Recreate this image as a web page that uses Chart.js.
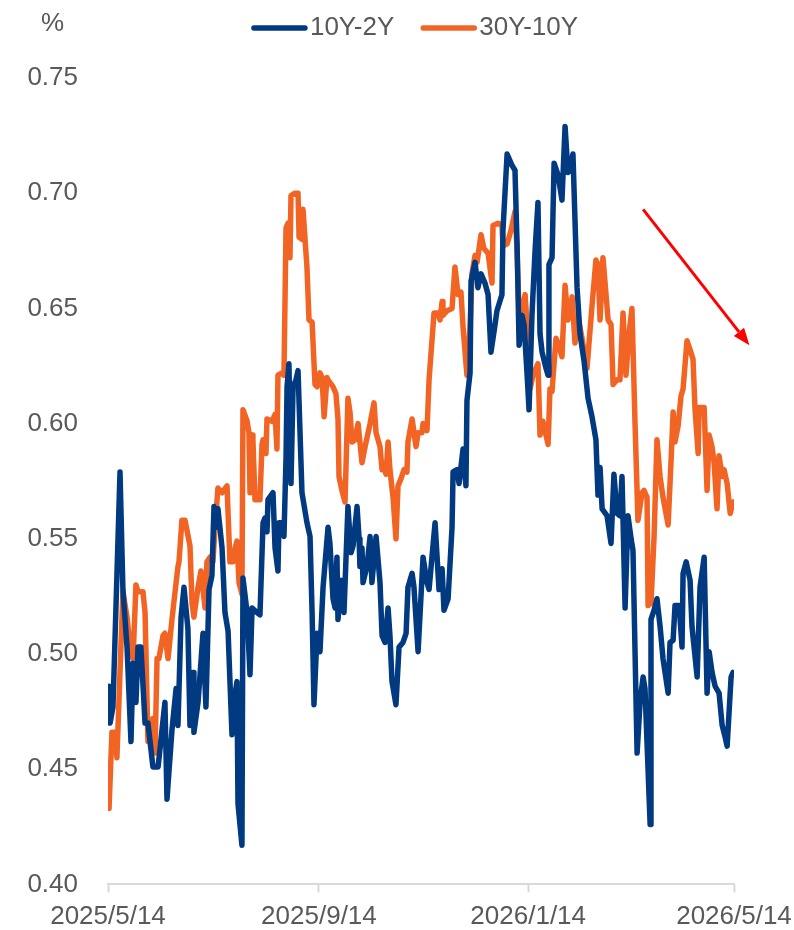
<!DOCTYPE html>
<html>
<head>
<meta charset="utf-8">
<script src="https://cdn.jsdelivr.net/npm/chart.js@4/dist/chart.umd.min.js"></script>
<style>
  html, body { margin: 0; padding: 0; background: #ffffff; }
  canvas { display: block; }
</style>
</head>
<body>
<canvas id="spreadChart" width="794" height="930"></canvas>
<script>
// Days elapsed since 2025/5/14 for each observation
const days10y2y = [
  0.6, 1.2, 2.9, 7.0, 8.7, 11.1, 13.4, 14.6, 16.3, 17.5,
  19.2, 21.6, 23.3, 26.2, 29.2, 33.2, 34.4, 37.3, 39.7, 40.8,
  42.6, 44.3, 46.6, 47.8, 49.6, 50.1, 52.5, 55.4, 57.1, 58.9,
  60.6, 61.8, 63.6, 64.1, 66.5, 68.2, 70.0, 72.3, 73.5, 75.2,
  75.8, 78.1, 78.7, 81.1, 82.8, 84.0, 86.9, 88.6, 90.4, 91.5,
  92.7, 93.3, 96.2, 97.4, 99.1, 99.7, 101.5, 102.6, 103.8, 104.4,
  105.5, 106.7, 107.9, 109.6, 110.8, 113.1, 116.0, 117.8, 119.0, 120.1,
  121.9, 123.6, 125.4, 128.3, 129.4, 131.2, 132.4, 133.5, 134.1, 135.9,
  137.6, 139.9, 141.7, 142.9, 145.2, 146.4, 146.9, 148.1, 148.7, 151.0,
  152.8, 153.9, 156.3, 158.6, 159.8, 161.5, 163.3, 164.4, 165.6, 167.9,
  169.7, 172.0, 173.8, 174.9, 177.3, 178.4, 180.8, 183.7, 186.0, 187.2,
  190.7, 193.0, 194.8, 195.9, 198.3, 200.6, 201.2, 203.5, 204.7, 207.0,
  208.7, 209.3, 211.1, 211.7, 214.0, 215.7, 217.5, 219.8, 221.6, 223.3,
  225.1, 226.8, 229.7, 230.3, 232.7, 235.6, 237.3, 238.5, 239.7, 241.4,
  242.6, 244.3, 245.5, 247.2, 249.0, 250.7, 251.9, 253.1, 255.4, 256.6,
  257.1, 258.9, 260.1, 262.4, 264.7, 266.5, 268.2, 269.4, 271.1, 273.5,
  275.2, 277.6, 279.9, 282.2, 284.5, 285.7, 286.9, 288.1, 291.0, 293.3,
  295.0, 296.8, 298.5, 299.7, 301.5, 303.2, 305.0, 306.1, 308.5, 310.3,
  312.0, 313.1, 316.1, 316.6, 318.4, 320.1, 321.9, 323.6, 326.6, 327.7,
  329.5, 330.6, 333.0, 334.7, 335.3, 337.1, 339.4, 340.5, 343.5, 345.2,
  347.6, 349.3, 350.5, 352.2, 354.0, 356.3, 358.1, 359.8, 361.0, 363.3,
  364.4
];
// 10Y-2Y spread, %
const spread10y2y = [
  0.486, 0.470, 0.477, 0.579, 0.528, 0.503, 0.462, 0.496, 0.479, 0.503,
  0.503, 0.470, 0.470, 0.451, 0.451, 0.479, 0.437, 0.467, 0.485, 0.469,
  0.516, 0.529, 0.511, 0.469, 0.492, 0.466, 0.479, 0.509, 0.477, 0.528,
  0.534, 0.564, 0.555, 0.563, 0.546, 0.518, 0.510, 0.465, 0.480, 0.488,
  0.435, 0.417, 0.533, 0.518, 0.491, 0.520, 0.518, 0.517, 0.557, 0.559,
  0.553, 0.567, 0.570, 0.546, 0.536, 0.557, 0.557, 0.551, 0.585, 0.616,
  0.626, 0.574, 0.616, 0.619, 0.623, 0.570, 0.557, 0.551, 0.518, 0.478,
  0.509, 0.501, 0.529, 0.555, 0.548, 0.524, 0.520, 0.542, 0.515, 0.532,
  0.518, 0.564, 0.544, 0.547, 0.564, 0.550, 0.538, 0.546, 0.531, 0.538,
  0.551, 0.531, 0.551, 0.531, 0.508, 0.505, 0.520, 0.508, 0.488, 0.478,
  0.503, 0.505, 0.509, 0.529, 0.535, 0.529, 0.501, 0.542, 0.531, 0.528,
  0.557, 0.528, 0.537, 0.519, 0.524, 0.555, 0.579, 0.580, 0.574, 0.589,
  0.573, 0.610, 0.622, 0.662, 0.670, 0.659, 0.665, 0.661, 0.656, 0.631,
  0.640, 0.649, 0.656, 0.684, 0.717, 0.712, 0.710, 0.678, 0.634, 0.647,
  0.643, 0.622, 0.606, 0.647, 0.675, 0.696, 0.639, 0.631, 0.624, 0.621,
  0.669, 0.672, 0.713, 0.708, 0.697, 0.729, 0.709, 0.710, 0.717, 0.659,
  0.639, 0.627, 0.611, 0.603, 0.593, 0.569, 0.581, 0.563, 0.560, 0.548,
  0.578, 0.561, 0.560, 0.577, 0.520, 0.560, 0.550, 0.545, 0.457, 0.480,
  0.490, 0.485, 0.426, 0.515, 0.519, 0.524, 0.512, 0.498, 0.483, 0.505,
  0.506, 0.521, 0.521, 0.503, 0.535, 0.540, 0.532, 0.512, 0.490, 0.529,
  0.542, 0.483, 0.501, 0.492, 0.486, 0.483, 0.469, 0.464, 0.460, 0.490,
  0.492
];

const days30y10y = [
  0.6, 2.3, 4.1, 5.2, 8.7, 11.1, 12.8, 14.6, 16.3, 17.5,
  20.4, 21.6, 23.3, 24.5, 26.2, 27.4, 28.6, 29.7, 32.1, 33.2,
  35.0, 37.3, 39.1, 40.8, 41.4, 43.1, 44.9, 47.8, 49.0, 50.1,
  52.5, 54.2, 55.4, 56.6, 57.7, 59.5, 61.2, 62.4, 64.1, 66.5,
  69.4, 71.1, 72.9, 74.1, 75.2, 76.4, 78.1, 78.7, 81.1, 82.2,
  82.8, 84.0, 84.5, 85.7, 88.6, 89.8, 90.4, 92.1, 92.7, 95.6,
  97.4, 98.5, 99.1, 101.5, 102.6, 103.8, 105.0, 106.1, 106.7, 109.0,
  110.8, 111.4, 113.1, 113.7, 116.0, 117.2, 119.0, 120.7, 121.9, 123.6,
  124.8, 126.0, 127.7, 128.3, 131.2, 132.9, 134.1, 134.7, 136.4, 138.2,
  139.9, 141.1, 142.3, 144.0, 145.8, 148.1, 149.9, 152.8, 155.1, 156.3,
  158.6, 159.8, 160.9, 162.1, 163.3, 164.4, 166.2, 167.9, 169.1, 170.8,
  172.6, 174.3, 174.9, 177.3, 179.6, 180.8, 183.1, 183.7, 186.0, 187.2,
  190.1, 192.4, 193.6, 194.8, 195.3, 197.7, 200.6, 202.3, 204.1, 205.8,
  207.0, 209.3, 211.1, 212.2, 214.0, 215.2, 217.5, 219.2, 221.6, 223.9,
  224.5, 227.4, 229.7, 230.3, 232.7, 235.0, 237.3, 238.5, 239.7, 241.4,
  243.2, 244.3, 246.1, 247.8, 250.7, 251.9, 253.6, 255.4, 256.6, 257.7,
  258.9, 261.2, 262.4, 264.7, 266.5, 268.2, 269.4, 270.6, 272.3, 274.1,
  276.4, 279.3, 282.2, 284.5, 285.7, 286.9, 288.6, 291.6, 293.3, 294.5,
  296.8, 298.5, 300.3, 302.0, 303.8, 305.5, 307.3, 309.0, 311.4, 312.5,
  314.3, 314.9, 316.6, 318.4, 320.1, 321.9, 323.6, 326.6, 328.3, 329.5,
  330.6, 332.4, 334.1, 335.3, 337.6, 339.4, 341.1, 342.3, 344.1, 344.6,
  347.6, 349.3, 350.5, 352.2, 353.4, 355.1, 356.3, 358.1, 359.2, 361.0,
  362.8, 364.4
];
// 30Y-10Y spread, %
const spread30y10y = [
  0.433, 0.466, 0.466, 0.455, 0.527, 0.516, 0.503, 0.498, 0.530, 0.527,
  0.527, 0.518, 0.462, 0.462, 0.472, 0.457, 0.498, 0.498, 0.508, 0.509,
  0.498, 0.515, 0.527, 0.538, 0.540, 0.558, 0.558, 0.547, 0.522, 0.516,
  0.529, 0.536, 0.528, 0.520, 0.540, 0.542, 0.540, 0.555, 0.572, 0.570,
  0.573, 0.540, 0.540, 0.546, 0.549, 0.531, 0.526, 0.606, 0.601, 0.596,
  0.570, 0.595, 0.593, 0.567, 0.567, 0.591, 0.593, 0.587, 0.602, 0.601,
  0.604, 0.589, 0.621, 0.622, 0.621, 0.685, 0.687, 0.672, 0.699, 0.700,
  0.700, 0.681, 0.680, 0.693, 0.668, 0.645, 0.644, 0.617, 0.616, 0.622,
  0.620, 0.603, 0.620, 0.619, 0.616, 0.613, 0.602, 0.577, 0.571, 0.566,
  0.611, 0.605, 0.592, 0.593, 0.600, 0.583, 0.590, 0.600, 0.609, 0.596,
  0.590, 0.580, 0.581, 0.578, 0.592, 0.580, 0.568, 0.550, 0.573, 0.576,
  0.580, 0.579, 0.592, 0.602, 0.590, 0.596, 0.596, 0.600, 0.597, 0.619,
  0.648, 0.648, 0.645, 0.653, 0.647, 0.649, 0.650, 0.668, 0.656, 0.657,
  0.642, 0.621, 0.642, 0.665, 0.673, 0.670, 0.682, 0.676, 0.674, 0.661,
  0.686, 0.687, 0.686, 0.677, 0.678, 0.684, 0.692, 0.676, 0.647, 0.650,
  0.656, 0.643, 0.615, 0.621, 0.626, 0.595, 0.601, 0.595, 0.591, 0.615,
  0.614, 0.637, 0.635, 0.629, 0.660, 0.645, 0.649, 0.655, 0.635, 0.646,
  0.637, 0.624, 0.651, 0.671, 0.669, 0.645, 0.672, 0.645, 0.643, 0.617,
  0.619, 0.619, 0.648, 0.621, 0.639, 0.650, 0.600, 0.558, 0.570, 0.571,
  0.568, 0.521, 0.522, 0.551, 0.593, 0.577, 0.568, 0.556, 0.584, 0.605,
  0.592, 0.599, 0.612, 0.615, 0.636, 0.632, 0.628, 0.606, 0.587, 0.607,
  0.607, 0.571, 0.595, 0.590, 0.583, 0.563, 0.586, 0.577, 0.580, 0.574,
  0.561, 0.566
];

// Date axis: day offsets and their labels
const tickDays = [0, 123, 245, 365];
const tickLabels = ['2025/5/14', '2025/9/14', '2026/1/14', '2026/5/14'];

// Value axis ticks
const yTicks = [0.40, 0.45, 0.50, 0.55, 0.60, 0.65, 0.70, 0.75];

// Downward trend arrow, in (day, %) terms
const trendArrowFrom = [312, 0.693];
const trendArrowTo = [374, 0.634];

const seriesNames = ['10Y-2Y', '30Y-10Y'];
const seriesColors = ['#013A80', '#F26424'];

const FONT = "'Liberation Sans', Arial, sans-serif";
const TEXT_COLOR = '#595959';

function toPoints(xs, ys) {
  return xs.map((x, i) => ({ x: x, y: ys[i] }));
}

// Line-style legend and unit label drawn above the plot
const headerPlugin = {
  id: 'header',
  afterDraw(chart) {
    const { ctx, chartArea } = chart;
    ctx.save();
    ctx.font = '26px ' + FONT;
    ctx.fillStyle = TEXT_COLOR;
    ctx.textBaseline = 'middle';
    ctx.textAlign = 'left';
    ctx.fillText('%', 41, 24);

    const lineLen = 55, gap = 3, spacing = 27, y = 28;
    const items = chart.data.datasets.map(ds => ({
      label: ds.label,
      color: ds.borderColor,
      w: ctx.measureText(ds.label).width
    }));
    const total = items.reduce((s, it) => s + lineLen + gap + it.w, 0) + spacing * (items.length - 1);
    let x = (chartArea.left + chartArea.right) / 2 - total / 2 - 6;
    items.forEach(it => {
      ctx.strokeStyle = it.color;
      ctx.lineWidth = 5.5;
      ctx.lineCap = 'round';
      ctx.beginPath();
      ctx.moveTo(x + 2, y);
      ctx.lineTo(x + lineLen - 2, y);
      ctx.stroke();
      ctx.fillText(it.label, x + lineLen + gap, y);
      x += lineLen + gap + it.w + spacing;
    });
    ctx.restore();
  }
};

// Red trend arrow placed through the scales
const arrowPlugin = {
  id: 'trendArrow',
  afterDatasetsDraw(chart) {
    const { ctx, scales } = chart;
    const x1 = scales.x.getPixelForValue(trendArrowFrom[0]);
    const y1 = scales.y.getPixelForValue(trendArrowFrom[1]);
    const x2 = scales.x.getPixelForValue(trendArrowTo[0]);
    const y2 = scales.y.getPixelForValue(trendArrowTo[1]);
    const ang = Math.atan2(y2 - y1, x2 - x1);
    const headLen = 17, headHalf = 6.5;
    const bx = x2 - headLen * Math.cos(ang);
    const by = y2 - headLen * Math.sin(ang);
    ctx.save();
    ctx.strokeStyle = '#FF0000';
    ctx.fillStyle = '#FF0000';
    ctx.lineWidth = 3;
    ctx.beginPath();
    ctx.moveTo(x1, y1);
    ctx.lineTo(bx, by);
    ctx.stroke();
    ctx.beginPath();
    ctx.moveTo(x2, y2);
    ctx.lineTo(bx + headHalf * Math.sin(ang), by - headHalf * Math.cos(ang));
    ctx.lineTo(bx - headHalf * Math.sin(ang), by + headHalf * Math.cos(ang));
    ctx.closePath();
    ctx.fill();
    ctx.restore();
  }
};

const seriesData = [toPoints(days10y2y, spread10y2y), toPoints(days30y10y, spread30y10y)];

new Chart(document.getElementById('spreadChart'), {
  type: 'line',
  data: {
    datasets: seriesNames.map((name, i) => ({
      label: name,
      data: seriesData[i],
      borderColor: seriesColors[i],
      backgroundColor: seriesColors[i],
      borderWidth: 5.5,
      pointRadius: 0,
      tension: 0,
      borderJoinStyle: 'round',
      borderCapStyle: 'round',
      fill: false
    }))
  },
  options: {
    responsive: false,
    animation: false,
    devicePixelRatio: 1,
    layout: { padding: { top: 78, right: 60, bottom: 0, left: 0 } },
    plugins: {
      legend: { display: false },
      tooltip: { enabled: false }
    },
    scales: {
      x: {
        type: 'linear',
        min: tickDays[0],
        max: tickDays[tickDays.length - 1],
        afterBuildTicks: axis => { axis.ticks = tickDays.map(v => ({ value: v })); },
        afterFit: axis => {
          axis.height = 45;
          axis.paddingLeft = 0;
          axis.paddingRight = 0;
        },
        ticks: {
          autoSkip: false,
          maxRotation: 0,
          padding: 9,
          color: TEXT_COLOR,
          font: { family: FONT, size: 26 },
          callback: v => tickLabels[tickDays.indexOf(v)]
        },
        grid: {
          display: true,
          drawOnChartArea: false,
          drawTicks: true,
          tickLength: 8,
          tickWidth: 2,
          tickColor: '#D9D9D9'
        },
        border: { display: true, color: '#D9D9D9', width: 2 }
      },
      y: {
        min: yTicks[0],
        max: yTicks[yTicks.length - 1],
        afterBuildTicks: axis => { axis.ticks = yTicks.map(v => ({ value: v })); },
        afterFit: axis => { axis.width = 108; },
        ticks: {
          padding: 30,
          color: TEXT_COLOR,
          font: { family: FONT, size: 26 },
          callback: v => v.toFixed(2)
        },
        grid: { display: false, drawTicks: false },
        border: { display: false }
      }
    }
  },
  plugins: [headerPlugin, arrowPlugin]
});
</script>
</body>
</html>
